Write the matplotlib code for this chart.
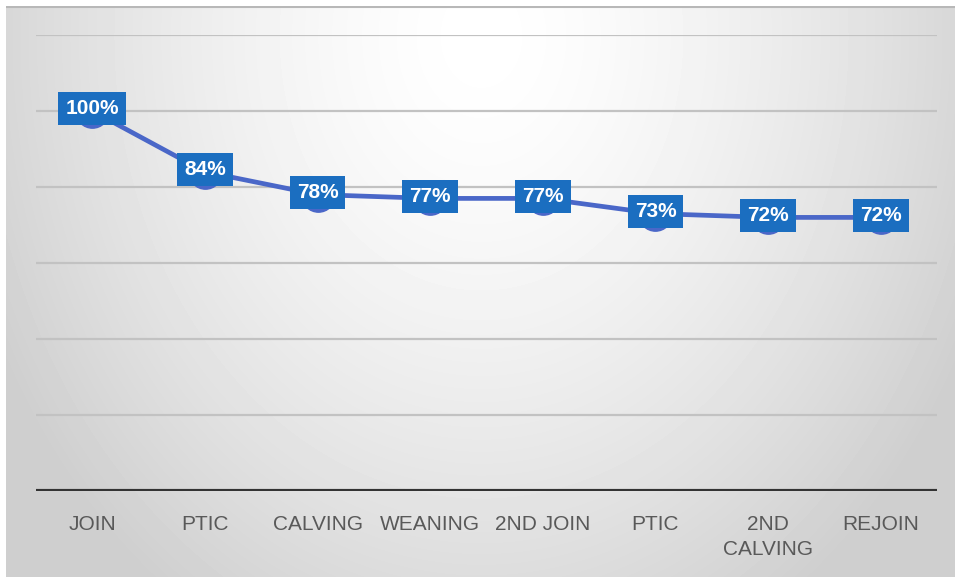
import matplotlib.pyplot as plt
import numpy as np

stages = ['JOIN', 'PTIC', 'CALVING', 'WEANING', '2ND JOIN', 'PTIC', '2ND\nCALVING', 'REJOIN']
retention = [100, 84, 78, 77, 77, 73, 72, 72]
grid_levels = [20, 40, 60, 80, 100, 120]

plt.rcParams['font.family'] = ['Liberation Sans', 'DejaVu Sans']

W, H = 957, 579
fig = plt.figure(figsize=(W / 100, H / 100), dpi=100)
fig.patch.set_facecolor('white')

# soft grey radial shading behind the chart
bg = fig.add_axes([6 / W, 2 / H, 949 / W, 571 / H])
yy, xx = np.mgrid[0:571, 0:949]
r = np.sqrt(((xx - 475) / 540.0) ** 2 + ((yy - 30) / 680.0) ** 2)
shade = 255 - 48 * np.clip(r, 0, 1) ** 1.5
bg.imshow(shade, cmap='gray', vmin=0, vmax=255, aspect='auto', interpolation='bilinear')
bg.axhline(0, color='#b8b8b8', lw=1.5)
bg.axis('off')

ax = fig.add_axes([36 / W, 88 / H, 901 / W, 456 / H])
ax.patch.set_alpha(0)
x = np.arange(len(stages))

for g in grid_levels:
    ax.axhline(g, color='#c2c2c2', lw=1.6, zorder=1)
ax.axhline(0, color='#333333', lw=3, zorder=2)

ax.plot(x, retention, color='#4a67c8', lw=3.4, marker='o', ms=24,
        markerfacecolor='#4a67c8', markeredgecolor='#4a67c8', zorder=3)
for xi, v in zip(x, retention):
    ax.text(xi, v + 0.6, f'{v}%', ha='center', va='center', color='white',
            fontsize=15, fontweight='bold', zorder=5,
            bbox=dict(boxstyle='square,pad=0.34', fc='#1b6ec0', ec='none'))

ax.set_xlim(-0.5, len(stages) - 0.5)
ax.set_ylim(0, 120)
ax.set_yticks([])
ax.set_xticks(x)
ax.set_xticklabels(stages, fontsize=15, color='#595959', linespacing=1.45)
ax.tick_params(axis='x', length=0, pad=17)
for s in ax.spines.values():
    s.set_visible(False)

fig.savefig('out.png', dpi=100)
